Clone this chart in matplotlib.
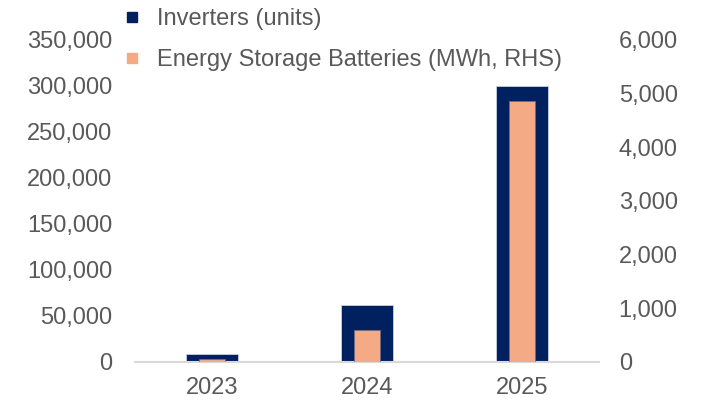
import matplotlib.pyplot as plt
from matplotlib.lines import Line2D
import numpy as np

years = ['2023', '2024', '2025']
inverters = [8400, 62000, 300000]
batteries = [60, 600, 4860]

plt.rcParams['font.family'] = ['Liberation Sans', 'DejaVu Sans']
grey = '#595959'
navy = '#002060'
salmon = '#F4AA84'

fig = plt.figure(figsize=(7.05, 4.03), dpi=100)
ax = fig.add_axes([0.191, 0.102, 0.659, 0.799])
ax2 = ax.twinx()

x = np.arange(len(years))
ax.bar(x, inverters, width=0.335, color=navy, edgecolor='#c8d0e0', linewidth=0.6, zorder=2)
ax2.bar(x, batteries, width=0.17, color=salmon, edgecolor='#6b6f8a', linewidth=0.5, zorder=3)

ax.set_xlim(-0.5, 2.5)
ax.set_ylim(0, 350000)
ax2.set_ylim(0, 6000)
ax.set_yticks(np.arange(0, 350001, 50000))
ax2.set_yticks(np.arange(0, 6001, 1000))
ax.set_yticklabels([f'{v:,}' for v in np.arange(0, 350001, 50000)])
ax2.set_yticklabels([f'{v:,}' for v in np.arange(0, 6001, 1000)])
ax.set_xticks(x)
ax.set_xticklabels(years)

for a in (ax, ax2):
    for s in a.spines.values():
        s.set_visible(False)
    a.tick_params(length=0, labelsize=17, colors=grey)
ax.spines['bottom'].set_visible(True)
ax.spines['bottom'].set_color('#d9d9d9')
ax.spines['bottom'].set_linewidth(1.5)
ax.tick_params(axis='y', pad=16)
ax.tick_params(axis='x', pad=11)
ax2.tick_params(axis='y', pad=14)

handles = [Line2D([], [], ls='none', marker='s', ms=7.5, mfc=navy, mec=navy),
           Line2D([], [], ls='none', marker='s', ms=7.5, mfc=salmon, mec=salmon)]
labels = ['Inverters (units)', 'Energy Storage Batteries (MWh, RHS)']
leg = fig.legend(handles, labels, loc='upper left', bbox_to_anchor=(0.147, 1.032),
                 frameon=False, fontsize=17, labelspacing=0.78, handlelength=0.6,
                 handletextpad=0.75, labelcolor=grey)

fig.savefig('out.png', dpi=100)
